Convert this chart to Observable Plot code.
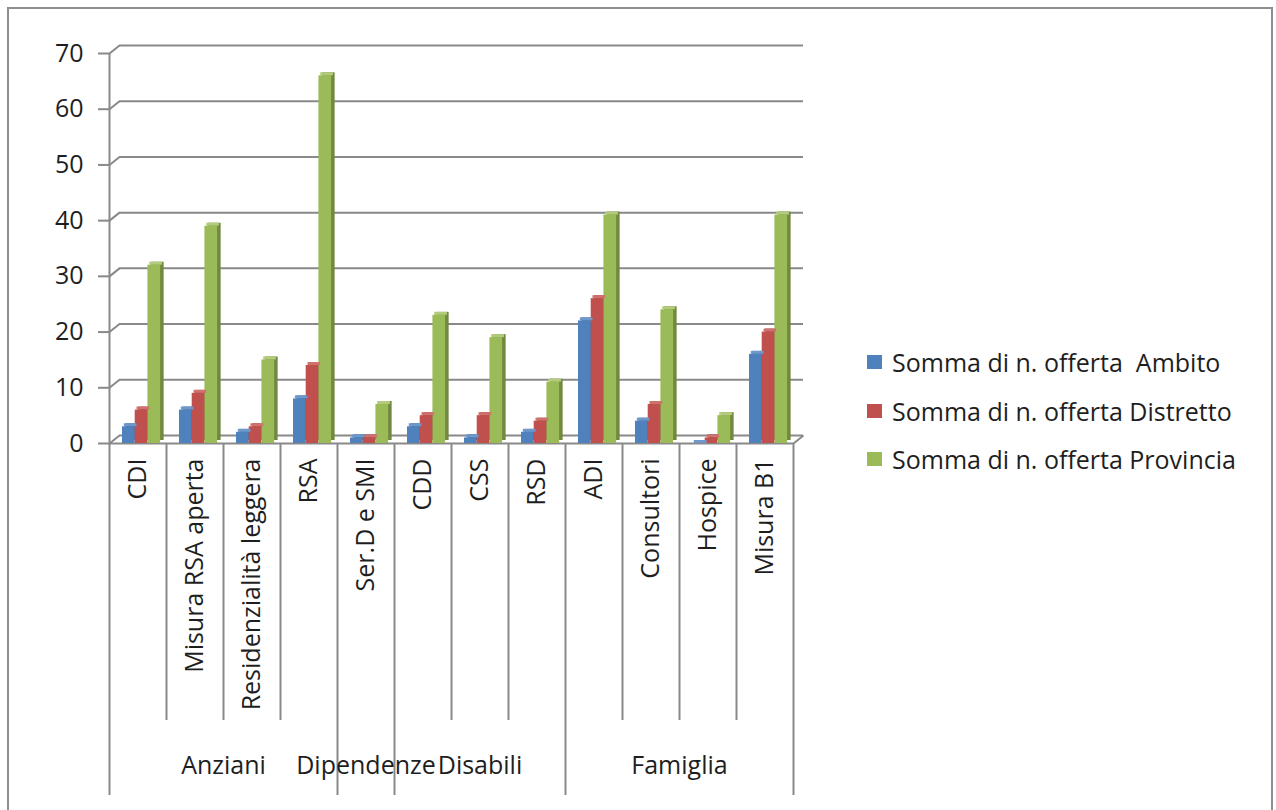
<!DOCTYPE html>
<html>
<head>
<meta charset="utf-8">
<script src="https://cdn.jsdelivr.net/npm/d3@7"></script>
<script src="https://cdn.jsdelivr.net/npm/@observablehq/plot@0.6"></script>
<style>
  body { margin: 0; background: #fff; font-family: "Open Sans", sans-serif; }
  #wrap { position: relative; width: 1276px; height: 810px; overflow: hidden; background: #fff; }
  #frame { position: absolute; left: 7px; top: 7px; width: 1266px; height: 840px; border: 2px solid #8e8e8e; box-sizing: border-box; }
  #chart { position: absolute; left: 0; top: 0; }
  #legend { position: absolute; left: 867px; top: 338px; font-size: 25px; color: #1e1e1e; }
  #legend .row { display: flex; align-items: center; height: 48.5px; white-space: pre; }
  #legend .sw { width: 15px; height: 14px; margin-right: 10px; }
</style>
</head>
<body>
<div id="wrap">
  <div id="frame"></div>
  <div id="chart"></div>
  <div id="legend"></div>
</div>
<script>
(function () {
// ---- data ----
const categories = ["CDI", "Misura RSA aperta", "Residenzialità leggera", "RSA", "Ser.D e SMI", "CDD", "CSS", "RSD", "ADI", "Consultori", "Hospice", "Misura B1"];
const groupOf = ["Anziani", "Anziani", "Anziani", "Anziani", "Dipendenze", "Disabili", "Disabili", "Disabili", "Famiglia", "Famiglia", "Famiglia", "Famiglia"];
const seriesNames = ["Somma di n. offerta  Ambito", "Somma di n. offerta Distretto", "Somma di n. offerta Provincia"];
const ambito    = [3, 6, 2, 8, 1, 3, 1, 2, 22, 4, 0, 16];
const distretto = [6, 9, 3, 14, 1, 5, 5, 4, 26, 7, 1, 20];
const provincia = [32, 39, 15, 66, 7, 23, 19, 11, 41, 24, 5, 41];
const yTicks = [0, 10, 20, 30, 40, 50, 60, 70];
const colors = ["#4F81BD", "#C0504D", "#9BBB59"];
const sideColors = ["#385D8A", "#8C3B39", "#71893F"];
const topColors = ["#6E98CC", "#D0716E", "#B2CC7C"];

// ---- layout ----
const W = 1276, H = 810;
const pLeft = 109, pRight = 793, pTop = 53, pBottom = 443;
const stepPx = (pRight - pLeft) / categories.length;
const unitPx = (pBottom - pTop) / 70;
const depthX = 10 / stepPx, depthY = 8 / unitPx;
const barW = 0.223, barOff = 0.228;
const fs = 25;

const seriesVals = [ambito, distretto, provincia];
const rows = [];
categories.forEach((c, i) => {
  seriesVals.forEach((vals, j) => {
    const x1 = i + barOff + j * barW;
    rows.push({cat: c, i, j, value: vals[i], x1, x2: x1 + barW});
  });
});

const spans = [];
groupOf.forEach((g, i) => {
  const last = spans[spans.length - 1];
  if (last && last.name === g) last.end = i + 1;
  else spans.push({name: g, start: i, end: i + 1});
});
const groupBounds = [0, ...spans.map(s => s.end)];
const subBounds = d3.range(1, categories.length).filter(b => !groupBounds.includes(b));

const gridColor = "#898989";
const n = categories.length;

const chart = Plot.plot({
  width: W, height: H,
  marginLeft: pLeft, marginRight: W - pRight, marginTop: pTop, marginBottom: H - pBottom,
  x: {domain: [0, n], axis: null},
  y: {domain: [0, 70], axis: null},
  style: {fontFamily: "'Open Sans', sans-serif", fontSize: fs + "px", color: "#1e1e1e", background: "transparent", overflow: "visible"},
  marks: [
    Plot.ruleY(yTicks, {x1: 0, x2: n, dx: 10, dy: -8, stroke: gridColor, strokeWidth: 2}),
    Plot.link(yTicks, {x1: 0, y1: d => d, x2: depthX, y2: d => d + depthY, stroke: gridColor, strokeWidth: 2}),
    Plot.link([n], {x1: d => d, y1: 0, x2: d => d + depthX, y2: depthY, stroke: gridColor, strokeWidth: 2}),
    Plot.ruleX([0], {y1: 0, y2: 70, stroke: gridColor, strokeWidth: 2}),
    Plot.ruleY([0], {x1: 0, x2: n, stroke: gridColor, strokeWidth: 2}),
    Plot.axisY({ticks: yTicks, label: null, tickSize: 11, tickPadding: 15, stroke: gridColor, strokeWidth: 2, strokeOpacity: 1, fontSize: fs, fill: "#1e1e1e"}),
    Plot.rectY(rows, {x1: "x1", x2: "x2", y1: 0, y2: "value", fill: d => sideColors[d.j], dx: 3.5, dy: -3}),
    Plot.rectY(rows, {x1: "x1", x2: "x2", y1: 0, y2: "value", fill: d => colors[d.j]}),
    Plot.rect(rows, {x1: "x1", x2: "x2", y1: "value", y2: "value", insetTop: -3, dx: 1.8, fill: d => topColors[d.j]}),
    Plot.ruleX(subBounds, {y1: 0, y2: 0, insetBottom: -277, stroke: gridColor, strokeWidth: 2}),
    Plot.ruleX(groupBounds, {y1: 0, y2: 0, insetBottom: -352, stroke: gridColor, strokeWidth: 2}),
    Plot.text(categories, {x: (d, i) => i + 0.5, y: 0, text: d => d, rotate: -90, textAnchor: "end", dy: 15, fontSize: fs, fill: "#1e1e1e"}),
    Plot.text(spans, {x: d => (d.start + d.end) / 2, y: 0, text: "name", dy: 322, fontSize: fs, fill: "#1e1e1e"})
  ]
});
document.getElementById("chart").appendChild(chart);

const legend = document.getElementById("legend");
seriesNames.forEach((name, j) => {
  const row = document.createElement("div");
  row.className = "row";
  const sw = document.createElement("div");
  sw.className = "sw";
  sw.style.background = colors[j];
  const t = document.createElement("span");
  t.textContent = name;
  row.appendChild(sw);
  row.appendChild(t);
  legend.appendChild(row);
});
})();
</script>
</body>
</html>
